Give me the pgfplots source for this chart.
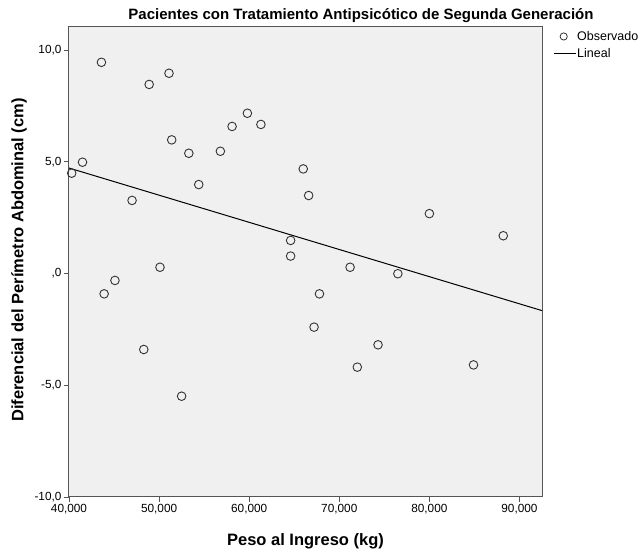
\documentclass[border=0pt]{standalone}
\usepackage{pgfplots}
\pgfplotsset{compat=1.18}
\usepackage{fontspec}
\setmainfont{Liberation Sans}
\definecolor{plotbg}{HTML}{F0F0F0}
\definecolor{frame}{HTML}{555555}
\definecolor{mk}{HTML}{333333}

\begin{document}
\begin{tikzpicture}
\begin{axis}[
    scale only axis,
    width=473pt, height=470pt,
    xmin=40, xmax=92.5,
    ymin=-10, ymax=11.03,
    axis background/.style={fill=plotbg},
    axis line style={frame, line width=1pt},
    xtick={40,50,60,70,80,90},
    ytick={-10,-5,0,5,10},
    xticklabels={{40,000},{50,000},{60,000},{70,000},{80,000},{90,000}},
    yticklabels={{-10,0},{-5,0},{,0},{5,0},{10,0}},
    tick align=outside,
    xtick pos=bottom, ytick pos=left,
    major tick length=5pt,
    tick style={frame, line width=0.9pt},
    ticklabel style={font=\fontsize{11.8}{13}\selectfont},
    xticklabel style={yshift=1pt},
    yticklabel style={xshift=1pt},
    xlabel={\textbf{Peso al Ingreso (kg)}},
    ylabel={\textbf{Diferencial del Perímetro Abdominal (cm)}},
    x label style={at={(rel axis cs:0.5,0)}, anchor=center, yshift=-44pt, font=\fontsize{16.5}{18}\selectfont},
    y label style={at={(rel axis cs:0,0.5)}, anchor=center, yshift=50pt, xshift=2pt, font=\fontsize{16.5}{18}\selectfont},
    legend style={at={(rel axis cs:1,1)}, anchor=north west, xshift=11pt, yshift=-3pt,
        draw=none, fill=none, inner sep=0pt, row sep=4.5pt,
        font=\fontsize{12.5}{14}\selectfont,
        nodes={inner sep=1pt}},
    legend cell align=left,
]
\addplot[only marks, mark=o, mark size=4.3pt, mark options={draw=mk, line width=0.9pt, fill=plotbg},
    legend image code/.code={\draw[mk, line width=0.8pt] (10pt,0pt) circle (3.6pt);}]
coordinates {
(40.3,4.49) (41.5,4.98) (43.6,9.45) (43.9,-0.91) (45.1,-0.31) (47.0,3.27)
(48.3,-3.40) (48.9,8.46) (50.1,0.28) (51.1,8.96) (51.4,5.98) (52.5,-5.49)
(53.3,5.38) (54.4,3.98) (56.8,5.47) (58.1,6.58) (59.8,7.17) (61.3,6.67)
(66.0,4.68) (64.6,1.48) (64.6,0.78) (66.6,3.49) (67.2,-2.40) (67.8,-0.91)
(71.2,0.28) (72.0,-4.19) (74.3,-3.19) (76.5,-0.01) (80.0,2.68) (84.9,-4.09)
(88.2,1.69)
};
\addlegendentry{Observado}
\addplot[black, line width=1pt,
    legend image code/.code={\draw[black, line width=1pt] (0pt,0pt) -- (22pt,0pt);}]
coordinates {(40,4.72) (92.5,-1.66)};
\addlegendentry{Lineal}
\end{axis}
\node[font=\bfseries\fontsize{15}{17}\selectfont] at (292pt,481pt) {Pacientes con Tratamiento Antipsicótico de Segunda Generación};
\pgfresetboundingbox
\useasboundingbox (-69pt,-60pt) rectangle (572pt,497pt);
\end{tikzpicture}
\end{document}
